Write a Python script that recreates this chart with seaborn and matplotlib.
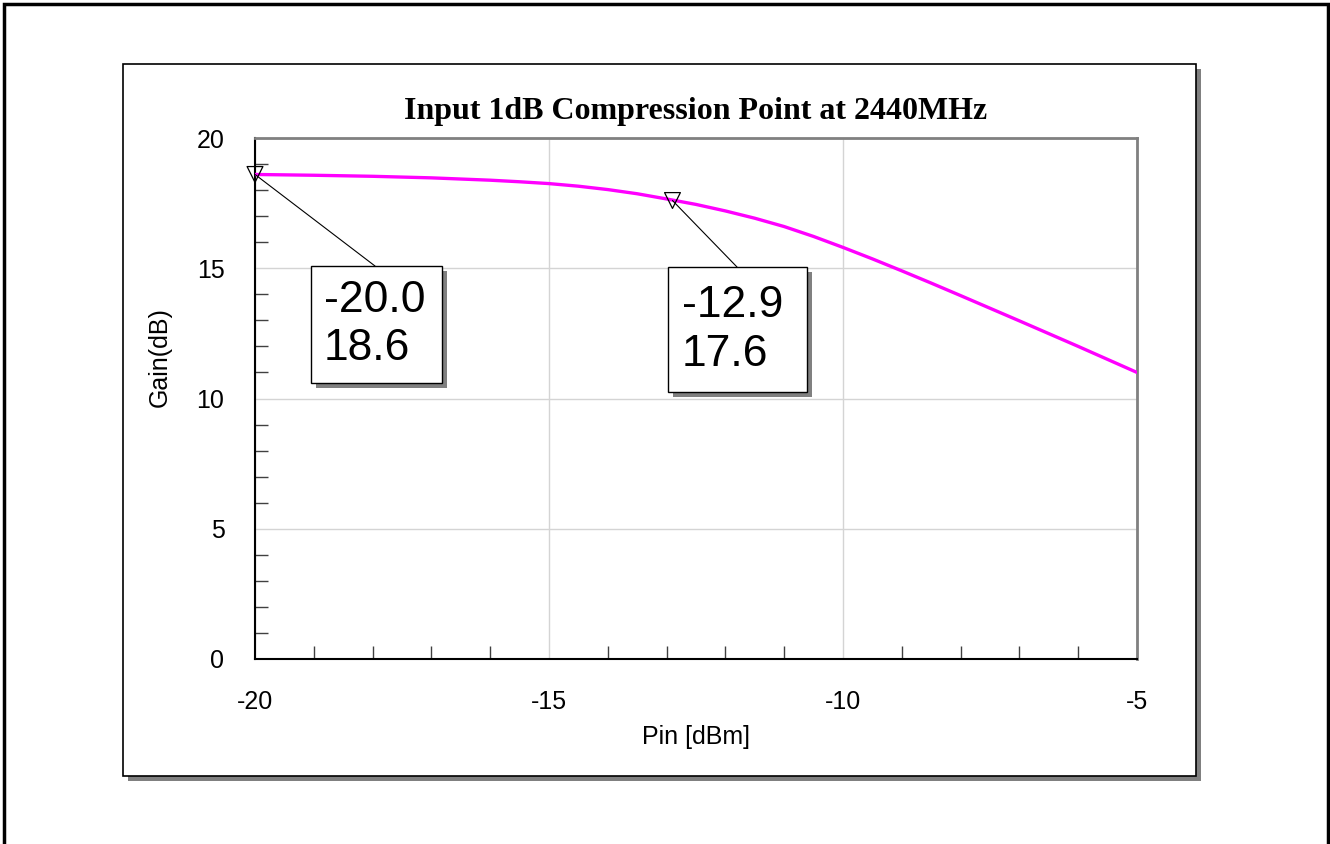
import numpy as np
import pandas as pd
import matplotlib
matplotlib.use("Agg")
import matplotlib.pyplot as plt
from matplotlib.patches import Rectangle
from matplotlib.ticker import MultipleLocator
import seaborn as sns

# ---- data ----
pin_dbm = [-20, -19, -18, -17, -16, -15.5, -15, -14.5, -14, -13.5, -13, -12.5, -12, -11.5, -11,
           -10.5, -10, -9.5, -9, -8.5, -8, -7, -6, -5]
gain_db = [18.6, 18.57, 18.53, 18.47, 18.38, 18.32, 18.25, 18.15, 18.02, 17.86, 17.66, 17.45, 17.2,
           16.92, 16.6, 16.22, 15.8, 15.36, 14.9, 14.43, 13.95, 12.98, 12.0, 11.0]
marker_x = [-20.0, -12.9]
marker_y = [18.6, 17.6]
marker_labels = ["-20.0\n18.6", "-12.9\n17.6"]
title = "Input 1dB Compression Point at 2440MHz"
xlabel = "Pin [dBm]"
ylabel = "Gain(dB)"

sns.set_style("white")
plt.rcParams['font.family'] = ['Liberation Sans', 'DejaVu Sans']
plt.rcParams['axes.unicode_minus'] = False
for k in ['text.color', 'axes.labelcolor', 'xtick.color', 'ytick.color']:
    plt.rcParams[k] = 'black'

W, H = 1330, 844
fig = plt.figure(figsize=(W / 100, H / 100), dpi=100)

def fx(px):
    return px / W

def fy(py):
    return 1 - py / H

# outer frame (open at bottom)
fig.patches.append(Rectangle((fx(4), fy(900)), fx(1328) - fx(4), fy(4) - fy(900),
                             transform=fig.transFigure, fill=False, ec='black', lw=2.5, zorder=0))
# inner box with shadow
fig.patches.append(Rectangle((fx(128), fy(781)), fx(1201) - fx(128), fy(69) - fy(781),
                             transform=fig.transFigure, fc='#808080', ec='none', zorder=0))
fig.patches.append(Rectangle((fx(123), fy(776)), fx(1196) - fx(123), fy(64) - fy(776),
                             transform=fig.transFigure, fc='white', ec='black', lw=1.2, zorder=0.1))

left, right, top, bottom = 255, 1137, 138, 659
ax = fig.add_axes([fx(left), fy(bottom), fx(right) - fx(left), fy(top) - fy(bottom)])
ax.set_zorder(1)
ax.set_facecolor('none')

df = pd.DataFrame({"Pin": pin_dbm, "Gain": gain_db})
sns.lineplot(data=df, x="Pin", y="Gain", ax=ax, color='#FF00FF', lw=2.4, zorder=3)
mk = pd.DataFrame({"x": marker_x, "y": marker_y})
sns.scatterplot(data=mk, x="x", y="y", ax=ax, marker='v', s=130,
                facecolor='none', edgecolor='black', linewidth=0.9, zorder=5, clip_on=False)

ax.set_xlim(-20, -5)
ax.set_ylim(0, 20)
ax.xaxis.set_major_locator(MultipleLocator(5))
ax.xaxis.set_minor_locator(MultipleLocator(1))
ax.yaxis.set_major_locator(MultipleLocator(5))
ax.yaxis.set_minor_locator(MultipleLocator(1))
ax.grid(True, which='major', color='#d4d4d4', lw=1.0, zorder=0)
ax.set_axisbelow(True)
ax.tick_params(which='both', bottom=True, left=True, top=False, right=False)
ax.tick_params(which='major', length=0, labelsize=18, pad=22)
ax.tick_params(which='minor', direction='in', length=9.5, width=1.0, color='#404040')

for s in ['left', 'bottom']:
    ax.spines[s].set_color('black')
    ax.spines[s].set_linewidth(1.5)
for s in ['top', 'right']:
    ax.spines[s].set_color('#808080')
    ax.spines[s].set_linewidth(2.0)

ax.set_xlabel(xlabel, fontsize=18)
ax.set_ylabel(ylabel, fontsize=18)
ax.xaxis.set_label_coords(0.5, (bottom - 737) / (bottom - top))
ax.xaxis.label.set_va('center')
ax.yaxis.set_label_coords((160 - left) / (right - left), (bottom - 357) / (bottom - top))
ax.yaxis.label.set_va('center')

fig.text(fx((left + right) / 2), fy(112), title, ha='center', va='center',
         fontsize=23, fontweight='bold', family=['Liberation Serif', 'DejaVu Serif'])

# annotation boxes
boxes = [(311, 266, 442, 383, 375), (668, 267, 807, 392, 737)]
text_left = [324, 682]
for (x0, y0, x1, y1, lx), tl, lab, mx, my in zip(boxes, text_left, marker_labels, marker_x, marker_y):
    fig.patches.append(Rectangle((fx(x0 + 5), fy(y1 + 5)), fx(x1) - fx(x0), fy(y0) - fy(y1),
                                 transform=fig.transFigure, fc='#808080', ec='none', zorder=6))
    fig.patches.append(Rectangle((fx(x0), fy(y1)), fx(x1) - fx(x0), fy(y0) - fy(y1),
                                 transform=fig.transFigure, fc='white', ec='black', lw=1.0, zorder=7))
    fig.text(fx(tl), fy((y0 + y1) / 2), lab, ha='left', va='center', fontsize=32,
             linespacing=1.25, zorder=8)
    ax.annotate('', xy=(mx, my), xycoords='data', xytext=(fx(lx), fy(y0)),
                textcoords='figure fraction',
                arrowprops=dict(arrowstyle='-', color='black', lw=0.8, shrinkA=0, shrinkB=0),
                annotation_clip=False)

fig.savefig("out.png", dpi=100)
